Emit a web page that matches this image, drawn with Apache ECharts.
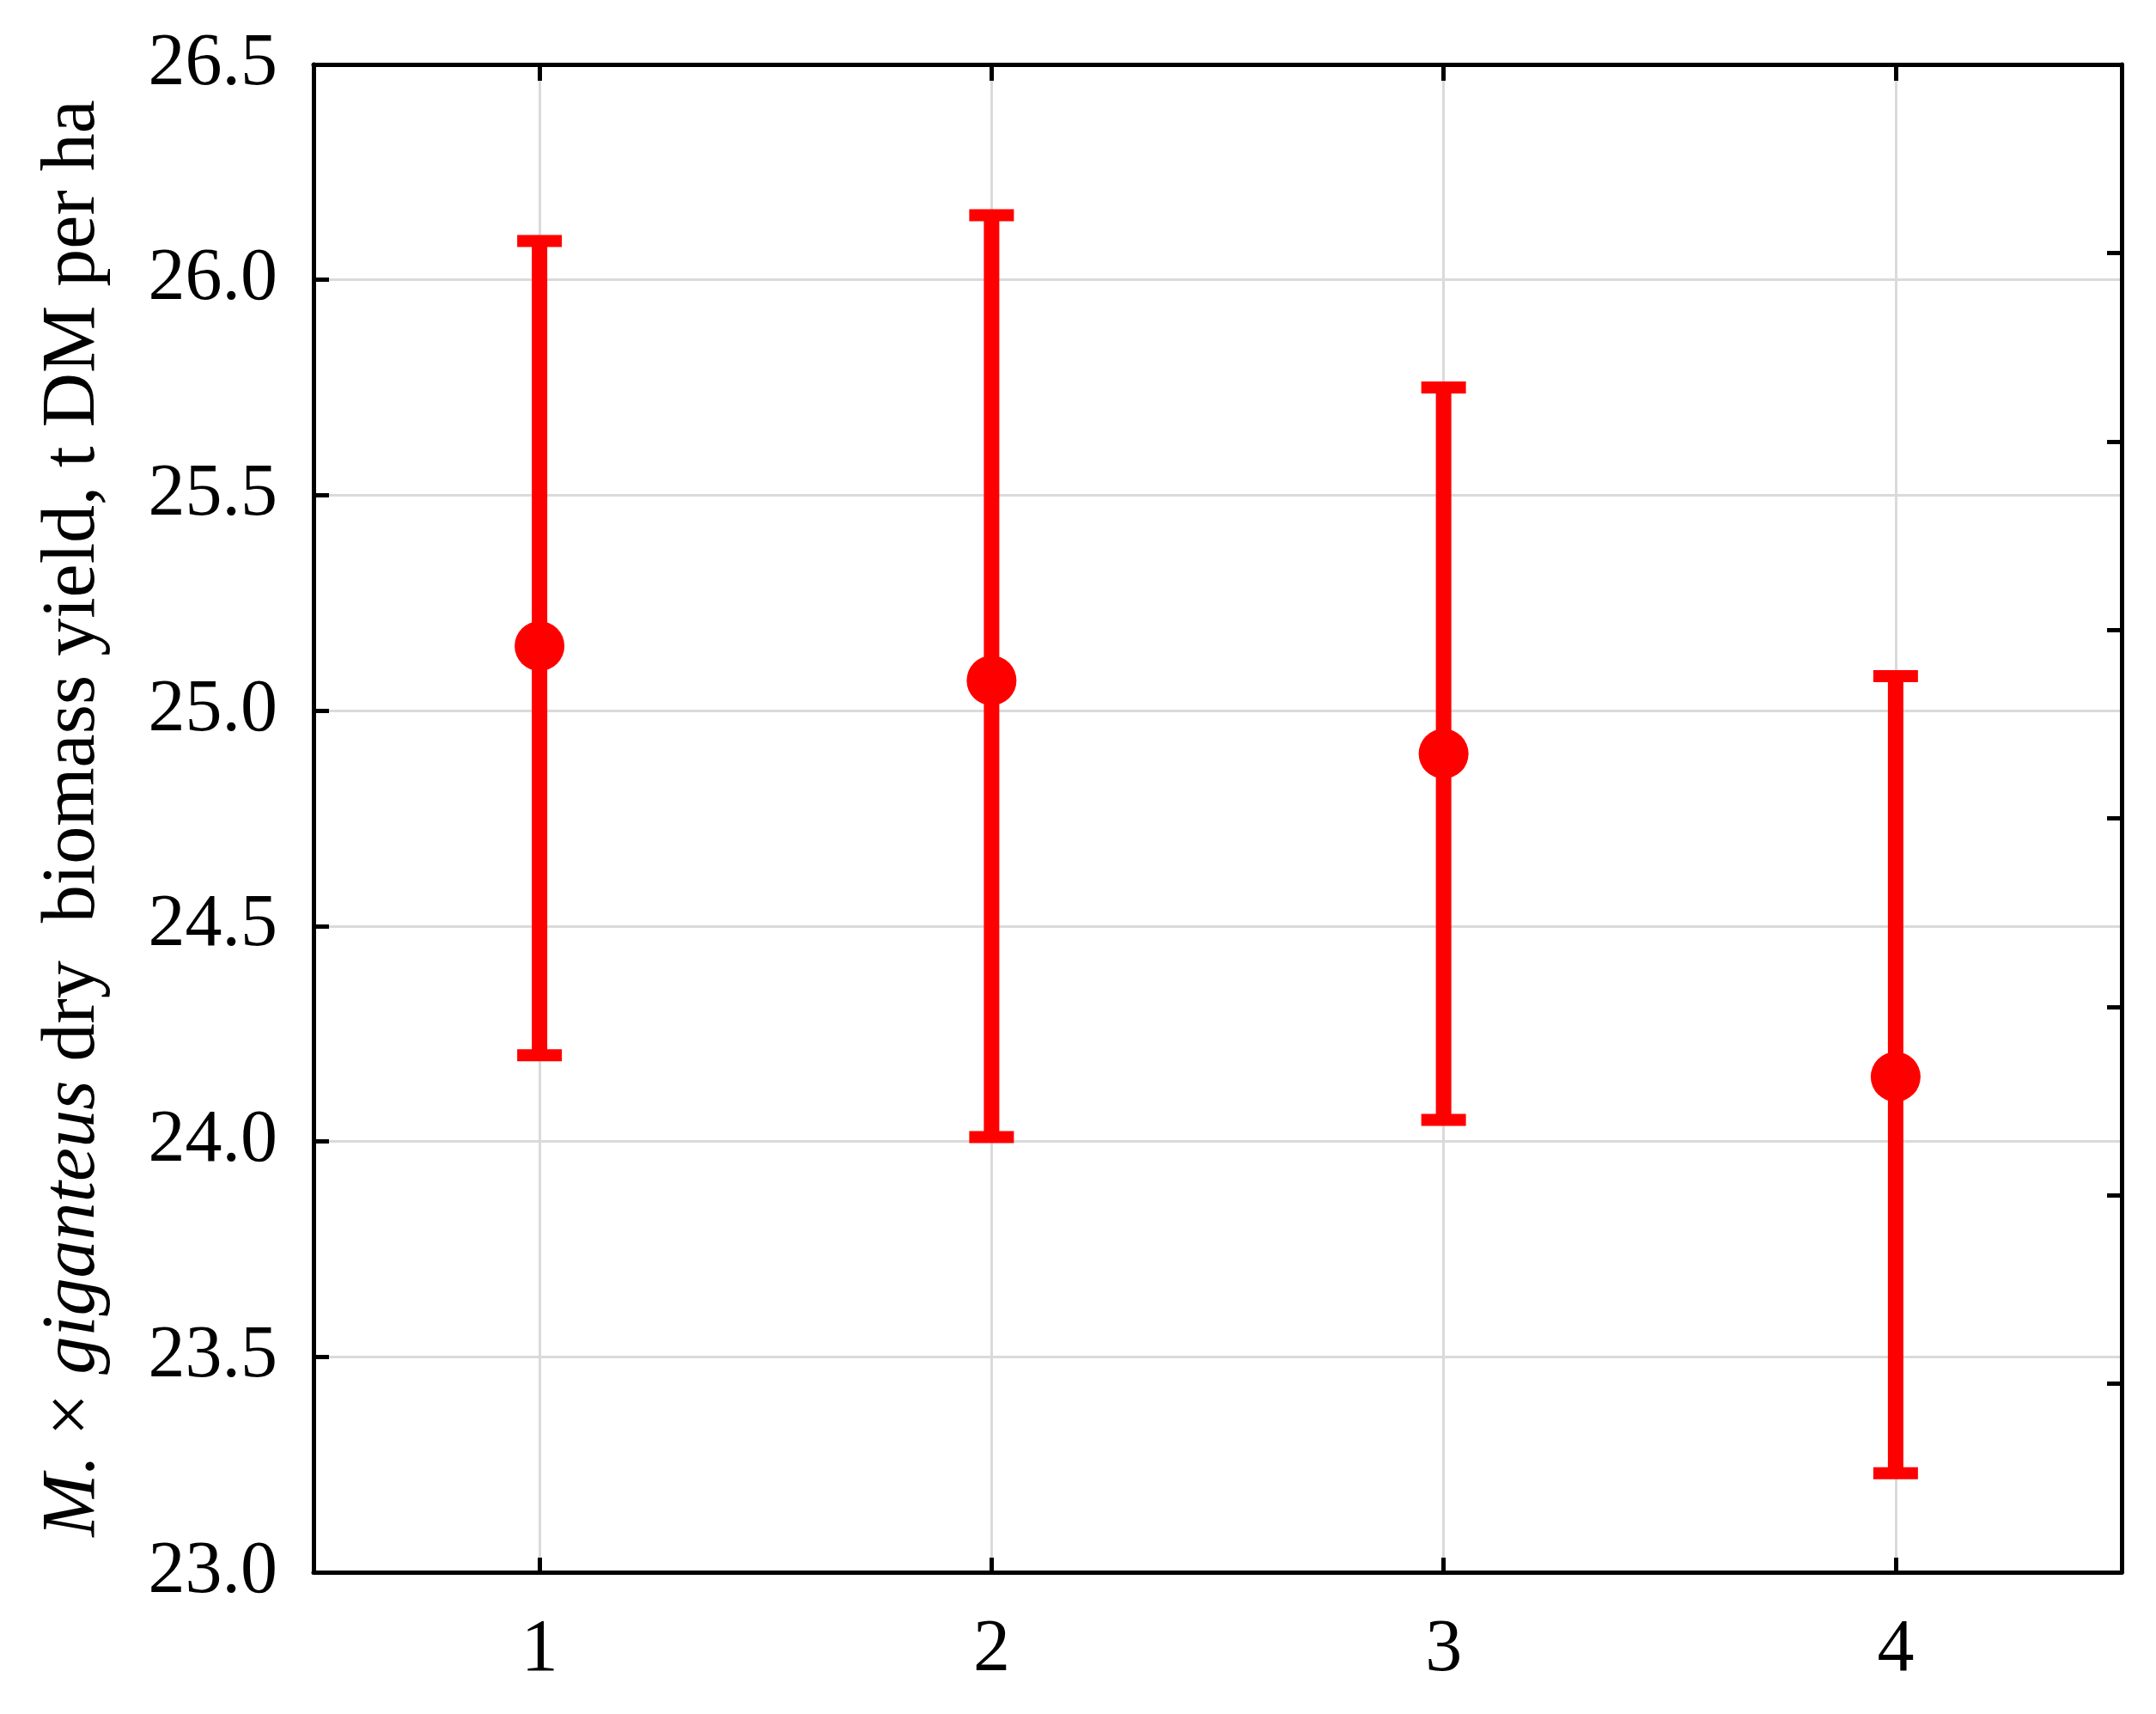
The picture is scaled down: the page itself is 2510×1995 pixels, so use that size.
<!DOCTYPE html>
<html>
<head>
<meta charset="utf-8">
<script src="https://cdn.jsdelivr.net/npm/echarts@6/dist/echarts.min.js"></script>
<style>
  html, body { margin: 0; padding: 0; background: #fff; }
  #chart { width: 2510px; height: 1995px; }
</style>
</head>
<body>
<div id="chart"></div>
<script>
// groups on the x axis
const groups = [1, 2, 3, 4];
// mean yield and the ends of each error bar (t DM per ha)
const means = [25.15, 25.07, 24.90, 24.15];
const upper = [26.09, 26.15, 25.75, 25.08];
const lower = [24.20, 24.01, 24.05, 23.23];

const RED = '#ff0000';
const FONT = "'Liberation Serif', 'Times New Roman', serif";

const barData = groups.map((g, i) => [g, lower[i], upper[i]]);
const pointData = groups.map((g, i) => [g, means[i]]);

const chart = echarts.init(document.getElementById('chart'));

const renderErrorBar = (params, api) => {
  const x = api.value(0);
  const lo = api.coord([x, api.value(1)]);
  const hi = api.coord([x, api.value(2)]);
  const capW = 52, capH = 14;
  return {
    type: 'group',
    children: [
      { type: 'line', shape: { x1: lo[0], y1: lo[1], x2: hi[0], y2: hi[1] },
        style: { stroke: RED, lineWidth: 18 } },
      { type: 'rect', shape: { x: hi[0] - capW / 2, y: hi[1] - capH / 2, width: capW, height: capH },
        style: { fill: RED } },
      { type: 'rect', shape: { x: lo[0] - capW / 2, y: lo[1] - capH / 2, width: capW, height: capH },
        style: { fill: RED } }
    ]
  };
};

const option = {
  backgroundColor: '#fff',
  animation: false,
  grid: { left: 365, right: 40, top: 75, bottom: 165 },
  xAxis: [
    {
      type: 'value',
      min: 0.5,
      max: 4.5,
      position: 'bottom',
      axisLine: { show: true, lineStyle: { color: '#000', width: 5 } },
      axisTick: { show: true, inside: true, length: 17, customValues: groups,
        lineStyle: { color: '#000', width: 5 } },
      axisLabel: { customValues: groups, margin: 48, fontFamily: FONT, fontSize: 86, color: '#000' },
      splitLine: { show: true, lineStyle: { color: '#dadada', width: 3 } }
    },
    {
      type: 'value',
      min: 0.5,
      max: 4.5,
      position: 'top',
      axisLine: { show: true, lineStyle: { color: '#000', width: 5 } },
      axisTick: { show: true, inside: true, length: 19, customValues: groups,
        lineStyle: { color: '#000', width: 5 } },
      axisLabel: { show: false },
      splitLine: { show: false }
    }
  ],
  yAxis: [
    {
      type: 'value',
      min: 23,
      max: 26.5,
      interval: 0.5,
      position: 'left',
      name: '{i|M.} × {i|giganteus} dry  biomass yield, t DM per ha',
      nameLocation: 'middle',
      nameRotate: 90,
      nameGap: 235,
      nameTextStyle: {
        fontFamily: FONT, fontSize: 88, color: '#000',
        rich: { i: { fontFamily: FONT, fontSize: 88, fontStyle: 'italic', color: '#000' } }
      },
      axisLine: { show: true, lineStyle: { color: '#000', width: 5 } },
      axisTick: { show: true, inside: true, length: 18, lineStyle: { color: '#000', width: 5 } },
      axisLabel: { margin: 42, fontFamily: FONT, fontSize: 86, color: '#000',
        formatter: v => v.toFixed(1) },
      splitLine: { show: true, lineStyle: { color: '#dadada', width: 3 } }
    },
    {
      // unlabelled right frame with its own tick spacing
      type: 'value',
      min: 0,
      max: 8,
      interval: 1,
      position: 'right',
      axisLine: { show: true, lineStyle: { color: '#000', width: 5 } },
      axisTick: { show: true, inside: true, length: 17, lineStyle: { color: '#000', width: 5 } },
      axisLabel: { show: false },
      splitLine: { show: false }
    }
  ],
  series: [
    {
      type: 'custom',
      xAxisIndex: 0,
      yAxisIndex: 0,
      renderItem: renderErrorBar,
      encode: { x: 0, y: [1, 2] },
      data: barData,
      z: 3
    },
    {
      type: 'scatter',
      xAxisIndex: 0,
      yAxisIndex: 0,
      symbol: 'circle',
      symbolSize: 58,
      itemStyle: { color: RED, opacity: 1 },
      data: pointData,
      z: 4
    }
  ]
};

chart.setOption(option);
</script>
</body>
</html>
